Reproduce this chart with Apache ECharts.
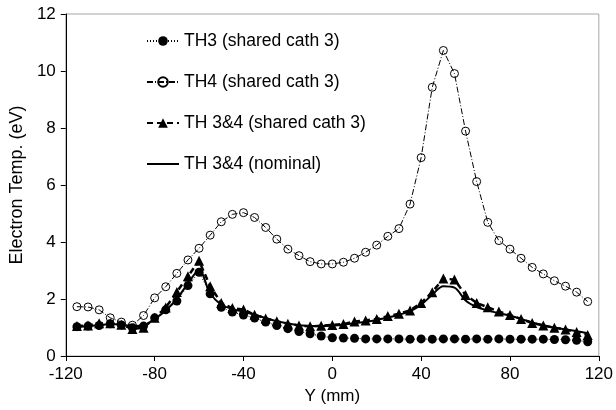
<!DOCTYPE html>
<html>
<head>
<meta charset="utf-8">
<script src="https://cdn.jsdelivr.net/npm/echarts@6/dist/echarts.min.js"></script>
<style>
  html, body { margin: 0; padding: 0; background: #fff; }
  #chart { width: 616px; height: 410px; }
</style>
</head>
<body>
<div id="chart"></div>
<script>
// Probe positions along Y (mm)
const positions = [-115, -110, -105, -100, -95, -90, -85, -80, -75, -70, -65, -60, -55, -50, -45, -40,
  -35, -30, -25, -20, -15, -10, -5, 0, 5, 10, 15, 20, 25, 30, 35, 40, 45, 50, 55, 60, 65, 70, 75,
  80, 85, 90, 95, 100, 105, 110, 115];

// Electron temperature (eV) for each configuration
const th3Shared = [1.03, 1.05, 1.07, 1.13, 1.09, 0.99, 1.05, 1.34, 1.62, 1.93, 2.47, 2.94, 2.18, 1.71, 1.54, 1.44,
  1.33, 1.19, 1.07, 0.96, 0.86, 0.78, 0.70, 0.64, 0.63, 0.62, 0.60, 0.60, 0.60, 0.60, 0.59, 0.60, 0.59, 0.60, 0.60, 0.59, 0.60, 0.59, 0.60,
  0.59, 0.59, 0.59, 0.59, 0.58, 0.57, 0.55, 0.50];

const th4Shared = [1.73, 1.72, 1.62, 1.34, 1.19, 1.08, 1.42, 2.04, 2.43, 2.90, 3.37, 3.78, 4.24, 4.71, 4.97, 5.03,
  4.86, 4.51, 4.10, 3.75, 3.52, 3.31, 3.23, 3.23, 3.29, 3.43, 3.64, 3.89, 4.20, 4.47, 5.33, 6.96, 9.43, 10.72, 9.91, 7.89, 6.12, 4.69, 4.05,
  3.75, 3.43, 3.11, 2.88, 2.64, 2.45, 2.24, 1.91];

const th34Shared = [1.05, 1.07, 1.15, 1.15, 1.10, 0.95, 0.99, 1.34, 1.70, 2.25, 2.80, 3.34, 2.45, 1.86, 1.68, 1.63,
  1.45, 1.32, 1.22, 1.13, 1.07, 1.04, 1.06, 1.09, 1.12, 1.21, 1.25, 1.30, 1.40, 1.48, 1.60, 1.86, 2.24, 2.72, 2.68, 2.14, 1.86, 1.71, 1.56,
  1.44, 1.30, 1.16, 1.07, 0.99, 0.93, 0.84, 0.74];

const th34Nominal = [1.02, 1.05, 1.08, 1.12, 1.10, 1.05, 1.08, 1.30, 1.60, 2.00, 2.55, 3.00, 2.20, 1.80, 1.65, 1.55,
  1.45, 1.33, 1.22, 1.14, 1.08, 1.05, 1.05, 1.07, 1.10, 1.15, 1.20, 1.27, 1.35, 1.45, 1.57, 1.80, 2.15, 2.45, 2.40, 1.95, 1.72, 1.60, 1.50,
  1.42, 1.30, 1.18, 1.08, 1.00, 0.93, 0.87, 0.80];

const seriesNames = ['TH3 (shared cath 3)', 'TH4 (shared cath 3)', 'TH 3&4 (shared cath 3)', 'TH 3&4 (nominal)'];

const xTicks = { min: -120, max: 120, step: 40 };
const yTicks = { min: 0, max: 12, step: 2 };

const pairs = vals => positions.map((p, i) => [p, vals[i]]);
const font = "'Liberation Sans', Arial, sans-serif";

const chart = echarts.init(document.getElementById('chart'), null, { renderer: 'canvas' });

chart.setOption({
  backgroundColor: '#ffffff',
  animation: false,
  grid: {
    left: 62, right: 17, top: 14, bottom: 53,
    show: true, borderColor: '#a6a6a6', borderWidth: 1, backgroundColor: 'transparent'
  },
  legend: {
    orient: 'vertical',
    left: 141, top: 26,
    itemWidth: 32, itemHeight: 12, itemGap: 21,
    textStyle: { fontFamily: font, fontSize: 17.5, color: '#000', lineHeight: 20 },
    data: [
      seriesNames[0],
      seriesNames[1],
      seriesNames[2],
      { name: seriesNames[3], itemStyle: { opacity: 0 } }
    ]
  },
  xAxis: {
    type: 'value',
    min: xTicks.min, max: xTicks.max, interval: xTicks.step,
    name: 'Y (mm)', nameLocation: 'middle', nameGap: 32,
    nameTextStyle: { fontFamily: font, fontSize: 17, color: '#000' },
    axisLine: { onZero: false, lineStyle: { color: '#000', width: 1 } },
    axisTick: { inside: false, length: 5, lineStyle: { color: '#000' } },
    axisLabel: { fontFamily: font, fontSize: 17, color: '#000', margin: 10 },
    splitLine: { show: false }
  },
  yAxis: {
    type: 'value',
    min: yTicks.min, max: yTicks.max, interval: yTicks.step,
    name: 'Electron Temp. (eV)', nameLocation: 'middle', nameGap: 37,
    nameTextStyle: { fontFamily: font, fontSize: 18, color: '#000' },
    axisLine: { show: true, onZero: false, lineStyle: { color: '#000', width: 1 } },
    axisTick: { show: true, inside: false, length: 5, lineStyle: { color: '#000' } },
    axisLabel: { fontFamily: font, fontSize: 17, color: '#000', margin: 10 },
    splitLine: { show: false }
  },
  series: [
    {
      name: seriesNames[0], type: 'line', data: pairs(th3Shared),
      symbol: 'circle', symbolSize: 9,
      itemStyle: { color: '#000' },
      lineStyle: { color: '#000', width: 1, type: [1, 2] },
      z: 2
    },
    {
      name: seriesNames[1], type: 'line', data: pairs(th4Shared),
      symbol: 'circle', symbolSize: 8,
      itemStyle: { color: 'rgba(255,255,255,0)', borderColor: '#000', borderWidth: 1 },
      lineStyle: { color: '#000', width: 1, type: [6, 2, 1, 2] },
      z: 3
    },
    {
      name: seriesNames[2], type: 'line', data: pairs(th34Shared),
      symbol: 'triangle', symbolSize: 10,
      itemStyle: { color: '#000' },
      lineStyle: { color: '#000', width: 2.5, type: [6, 4] },
      z: 4
    },
    {
      name: seriesNames[3], type: 'line', data: pairs(th34Nominal),
      showSymbol: false, symbol: 'circle', smooth: 0.35,
      itemStyle: { color: '#000' },
      lineStyle: { color: '#000', width: 2 },
      z: 5
    }
  ]
});
</script>
</body>
</html>
